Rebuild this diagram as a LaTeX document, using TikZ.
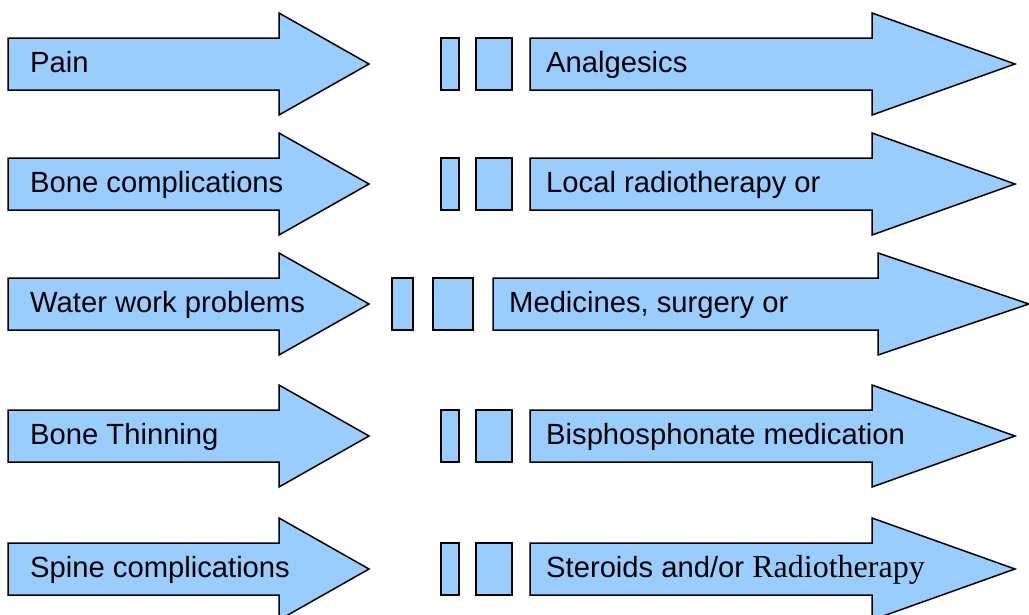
\documentclass[tikz,border=0pt]{standalone}
\usepackage{fontspec}
\setmainfont{Liberation Sans}
\newfontfamily\serifpart{Liberation Serif}
\usepackage{tikz}
\definecolor{skyblue}{HTML}{99CCFF}

\begin{document}
\begin{tikzpicture}[x=1pt, y=-1pt,
    arrowbox/.style={draw=black, fill=skyblue, line width=1.5pt, line join=miter},
    bar/.style={rectangle, draw=black, fill=skyblue, line width=1.5pt, minimum height=52pt, inner sep=0pt},
    lbl/.style={anchor=base west, inner sep=0pt, font=\fontsize{29.2}{31}\selectfont},
]
    \useasboundingbox (0,0) rectangle (1029,614);
    % Problems
    \foreach \n/\y/\t in {1/64/Pain, 2/184/Bone complications, 3/304/Water work problems, 4/436/Bone Thinning, 5/569/Spine complications} {
        \draw[arrowbox] (8,\y-26) -- (279,\y-26) -- (279,\y-51) -- (369,\y) -- (279,\y+51) -- (279,\y+26) -- (8,\y+26) -- cycle;
        \node[lbl] (prob\n) at (30,\y+8) {\t};
    }
    % Treatments
    \foreach \n/\y/\t in {1/64/{Analgesics}, 2/184/{Local radiotherapy or}, 4/436/{Bisphosphonate medication}, 5/569/{Steroids and/or {\serifpart\fontsize{32}{34}\selectfont Radiotherapy}}} {
        \node[bar, minimum width=18pt] (gapa\n) at (450,\y) {};
        \node[bar, minimum width=36pt] (gapb\n) at (494,\y) {};
        \draw[arrowbox] (530,\y-26) -- (872,\y-26) -- (872,\y-51) -- (1015,\y) -- (872,\y+51) -- (872,\y+26) -- (530,\y+26) -- cycle;
        \node[lbl] (treat\n) at (546,\y+8) {\t};
    }
    % Row 3 sits further left
    \node[bar, minimum width=21pt] (gapa3) at (402.5,304) {};
    \node[bar, minimum width=40pt] (gapb3) at (453,304) {};
    \draw[arrowbox] (493,278) -- (878,278) -- (878,253) -- (1029,304) -- (878,355) -- (878,330) -- (493,330) -- cycle;
    \node[lbl] (treat3) at (509,312) {Medicines, surgery or};
\end{tikzpicture}
\end{document}
